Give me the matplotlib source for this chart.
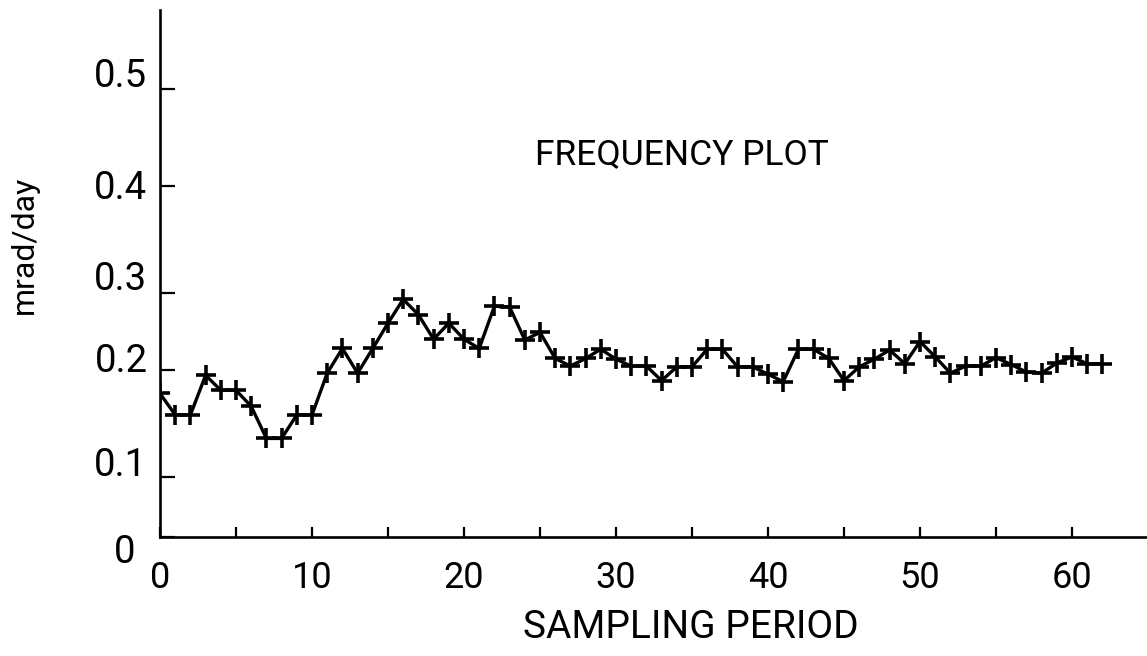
#!/usr/bin/env python3
"""Frequency plot: mrad/day per sampling period (hand-drawn style axes)."""

import numpy as np
import matplotlib
matplotlib.use("Agg")
import matplotlib.pyplot as plt
from matplotlib.transforms import ScaledTranslation

plt.rcParams.update({
    "font.family": ["Roboto", "DejaVu Sans"],
    "font.size": 20,
})

# --- data ---
period = np.arange(63)
rate = [
    0.178, 0.158, 0.158, 0.195, 0.181, 0.181, 0.166, 0.136, 0.136, 0.158,
    0.158, 0.197, 0.228, 0.197, 0.228, 0.261, 0.292, 0.272, 0.240, 0.261,
    0.240, 0.228, 0.283, 0.282, 0.239, 0.249, 0.215, 0.205, 0.215, 0.227,
    0.214, 0.205, 0.205, 0.190, 0.204, 0.204, 0.227, 0.227, 0.204, 0.204,
    0.196, 0.189, 0.227, 0.227, 0.215, 0.190, 0.204, 0.214, 0.226, 0.208,
    0.237, 0.217, 0.197, 0.205, 0.205, 0.216, 0.207, 0.198, 0.197, 0.209,
    0.217, 0.208, 0.208,
]
y_ticks = [0, 0.1, 0.2, 0.3, 0.4, 0.5]
y_tick_labels = ["0", "0.1", "0.2", "0.3", "0.4", "0.5"]
x_ticks = [0, 10, 20, 30, 40, 50, 60]

# the original axis is drawn with uneven tick spacing; warp the scale to match
warp_vals = [-1.0, 0.0, 0.1, 0.2, 0.3, 0.4, 0.5, 1.5]
warp_h = [-595.0, 0.0, 59.5, 166.5, 243.2, 350.8, 447.2, 1411.2]
# hand lettering sits a little off the tick marks (pixels, dx, dy; + is up)
y_label_shift = [(-12, -12), (0, 15), (0, 12), (0, 18), (0, 1), (0, 17)]


def fwd(v):
    return np.interp(v, warp_vals, warp_h)


def inv(h):
    return np.interp(h, warp_h, warp_vals)


fig = plt.figure(figsize=(11.47, 6.56), dpi=100)
ax = fig.add_axes([160 / 1147, 1 - 536.5 / 656, 1 - 160 / 1147, 526.5 / 656])
ax.set_yscale("function", functions=(fwd, inv))

ax.plot(period, rate, color="black", linewidth=2.4, marker="+",
        markersize=14, markeredgewidth=2.6)

ax.set_xlim(0, 987 / 15.2)
ax.set_ylim(0, 0.582)

ax.set_xticks(x_ticks)
ax.set_xticks(np.arange(5, 65, 10), minor=True)
ax.set_yticks(y_ticks)
ax.set_yticklabels(y_tick_labels)
ax.yaxis.set_minor_locator(matplotlib.ticker.NullLocator())

ax.tick_params(axis="x", which="both", direction="in", length=7, width=1.6,
               pad=17, labelsize=26)
ax.tick_params(axis="y", direction="in", length=11, width=1.6,
               pad=9, labelsize=27.5)

for lab, (dx, dy) in zip(ax.get_yticklabels(), y_label_shift):
    lab.set_transform(lab.get_transform()
                      + ScaledTranslation(dx / 100, dy / 100, fig.dpi_scale_trans))

for side in ("top", "right"):
    ax.spines[side].set_visible(False)
for side in ("left", "bottom"):
    ax.spines[side].set_linewidth(1.9)

fig.text(682 / 1147, 1 - 155 / 656, "FREQUENCY PLOT", ha="center",
         va="center", fontsize=25.5)
fig.text(691 / 1147, 1 - 628 / 656, "SAMPLING PERIOD", ha="center",
         va="center", fontsize=28)
fig.text(24 / 1147, 1 - 245 / 656, "mrad/day", ha="center", va="center",
         rotation=90, fontsize=23)

fig.savefig("out.png", dpi=100)
